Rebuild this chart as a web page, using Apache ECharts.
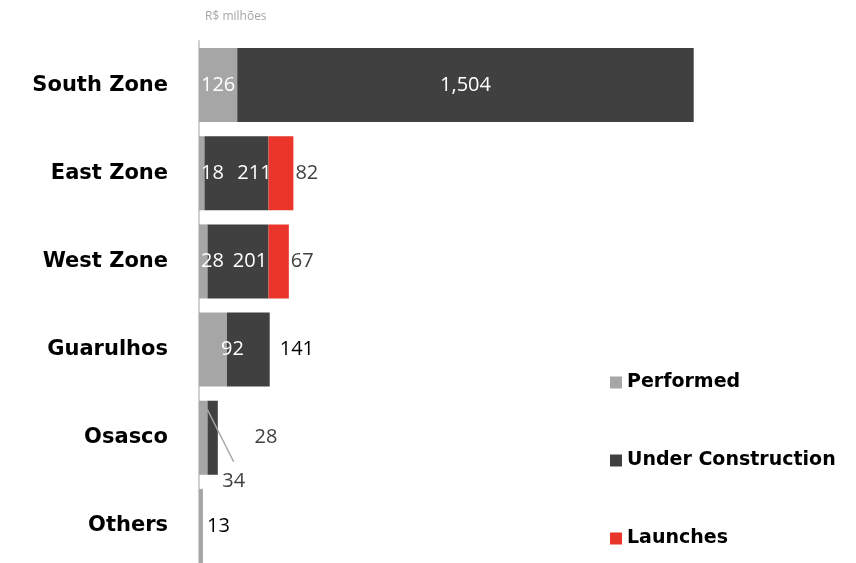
<!DOCTYPE html>
<html>
<head>
<meta charset="utf-8">
<script src="https://cdn.jsdelivr.net/npm/echarts@6/dist/echarts.min.js"></script>
<style>
  html, body { margin: 0; padding: 0; background: #fff; overflow: hidden; }
  /* a última barra passa da borda inferior, como no original */
  #chart { width: 856px; height: 570px; }
</style>
</head>
<body>
<div id="chart"></div>
<script>
// regiões (de cima para baixo)
var regions = ['South Zone', 'East Zone', 'West Zone', 'Guarulhos', 'Osasco', 'Others'];
var performed = [126, 18, 28, 92, 28, 13];
var underConstruction = [1504, 211, 201, 141, 34, 0];
var launches = [0, 82, 67, 0, 0, 0];

var chart = echarts.init(document.getElementById('chart'));

var labelFont = '"Open Sans", "Liberation Sans", sans-serif';
var dark = '#404040';

// deslocamento manual dos rótulos de "Under Construction"
var ucShift = { 1: [18, 0], 2: [12, 0], 4: [21, 44] };
var OSASCO = 4;

// rótulos ajustados à mão, como no original
function performedData() {
    return performed.map(function (v, i) {
        var item = { value: v };
        if (i === 3) {
            item.label = { position: 'insideLeft', offset: [20, 0] };
        } else if (i === 4) {
            item.label = { position: 'right', distance: 47, color: dark };
        } else if (i === 5) {
            item.label = { position: 'right', distance: 4, color: '#000' };
        }
        return item;
    });
}

function constructionData() {
    return underConstruction.map(function (v, i) {
        var item = { value: v };
        if (i === 3) {
            item.label = { position: 'right', distance: 10, color: '#000' };
        } else if (i === OSASCO) {
            item.label = { color: dark };
        } else if (v === 0) {
            item.label = { show: false };
        }
        return item;
    });
}

function launchData() {
    return launches.map(function (v) {
        return v ? { value: v } : { value: v, label: { show: false } };
    });
}

chart.setOption({
    animation: false,
    title: {
        text: 'R$ milhões',
        left: 200,
        top: 6,
        textStyle: { fontFamily: labelFont, fontSize: 12, fontWeight: 'normal', color: '#a6a6a6' }
    },
    legend: {
        orient: 'vertical',
        left: 605,
        top: 368,
        itemWidth: 12,
        itemHeight: 12,
        itemGap: 59,
        icon: 'rect',
        textStyle: { fontFamily: '"DejaVu Sans", sans-serif', fontSize: 19, color: '#000', fontWeight: 'bold' },
        data: ['Performed', 'Under Construction', 'Launches']
    },
    grid: { left: 199, top: 41, right: 50, bottom: 0 },
    xAxis: {
        type: 'value',
        min: 0,
        max: 2000,
        show: false
    },
    yAxis: {
        type: 'category',
        inverse: true,
        data: regions,
        axisLine: { show: true, lineStyle: { color: '#d0d0d0', width: 2 } },
        axisTick: { show: false },
        axisLabel: {
            margin: 31,
            fontFamily: '"DejaVu Sans", sans-serif',
            fontWeight: 'bold',
            fontSize: 21,
            color: '#000'
        }
    },
    series: [{
        name: 'Performed',
        type: 'bar',
        stack: 'total',
        barWidth: '84%',
        itemStyle: { color: '#a6a6a6' },
        label: {
            show: true,
            position: 'insideLeft',
            distance: 2,
            color: '#fff',
            fontFamily: labelFont,
            fontSize: 20
        },
        data: performedData()
    }, {
        name: 'Under Construction',
        type: 'bar',
        stack: 'total',
        itemStyle: { color: '#404040' },
        label: {
            show: true,
            position: 'inside',
            color: '#fff',
            fontFamily: labelFont,
            fontSize: 20,
            formatter: function (p) { return p.value.toLocaleString('en-US'); }
        },
        labelLayout: function (p) {
            var s = ucShift[p.dataIndex];
            return s ? { dx: s[0], dy: s[1] } : {};
        },
        data: constructionData()
    }, {
        name: 'Launches',
        type: 'bar',
        stack: 'total',
        itemStyle: { color: '#e9352a' },
        label: {
            show: true,
            position: 'right',
            distance: 2,
            color: dark,
            fontFamily: labelFont,
            fontSize: 20
        },
        data: launchData()
    }, {
        // linha guia do rótulo "34" de Osasco (por cima das barras)
        type: 'custom',
        silent: true,
        z: 5,
        encode: { x: 0, y: 2 },
        data: [[performed[OSASCO], underConstruction[OSASCO], OSASCO]],
        renderItem: function (params, api) {
            var start = api.coord([api.value(0), api.value(2)]);
            var band = api.size([0, 1])[1];
            var mid = api.coord([api.value(0) + api.value(1) / 2, api.value(2)]);
            var s = ucShift[OSASCO];
            return {
                type: 'line',
                shape: {
                    x1: start[0], y1: start[1] - band * 0.42 + 9,
                    x2: mid[0] + s[0], y2: mid[1] + s[1] - 20
                },
                style: { stroke: '#a6a6a6', lineWidth: 1.5 }
            };
        }
    }]
});
</script>
</body>
</html>
